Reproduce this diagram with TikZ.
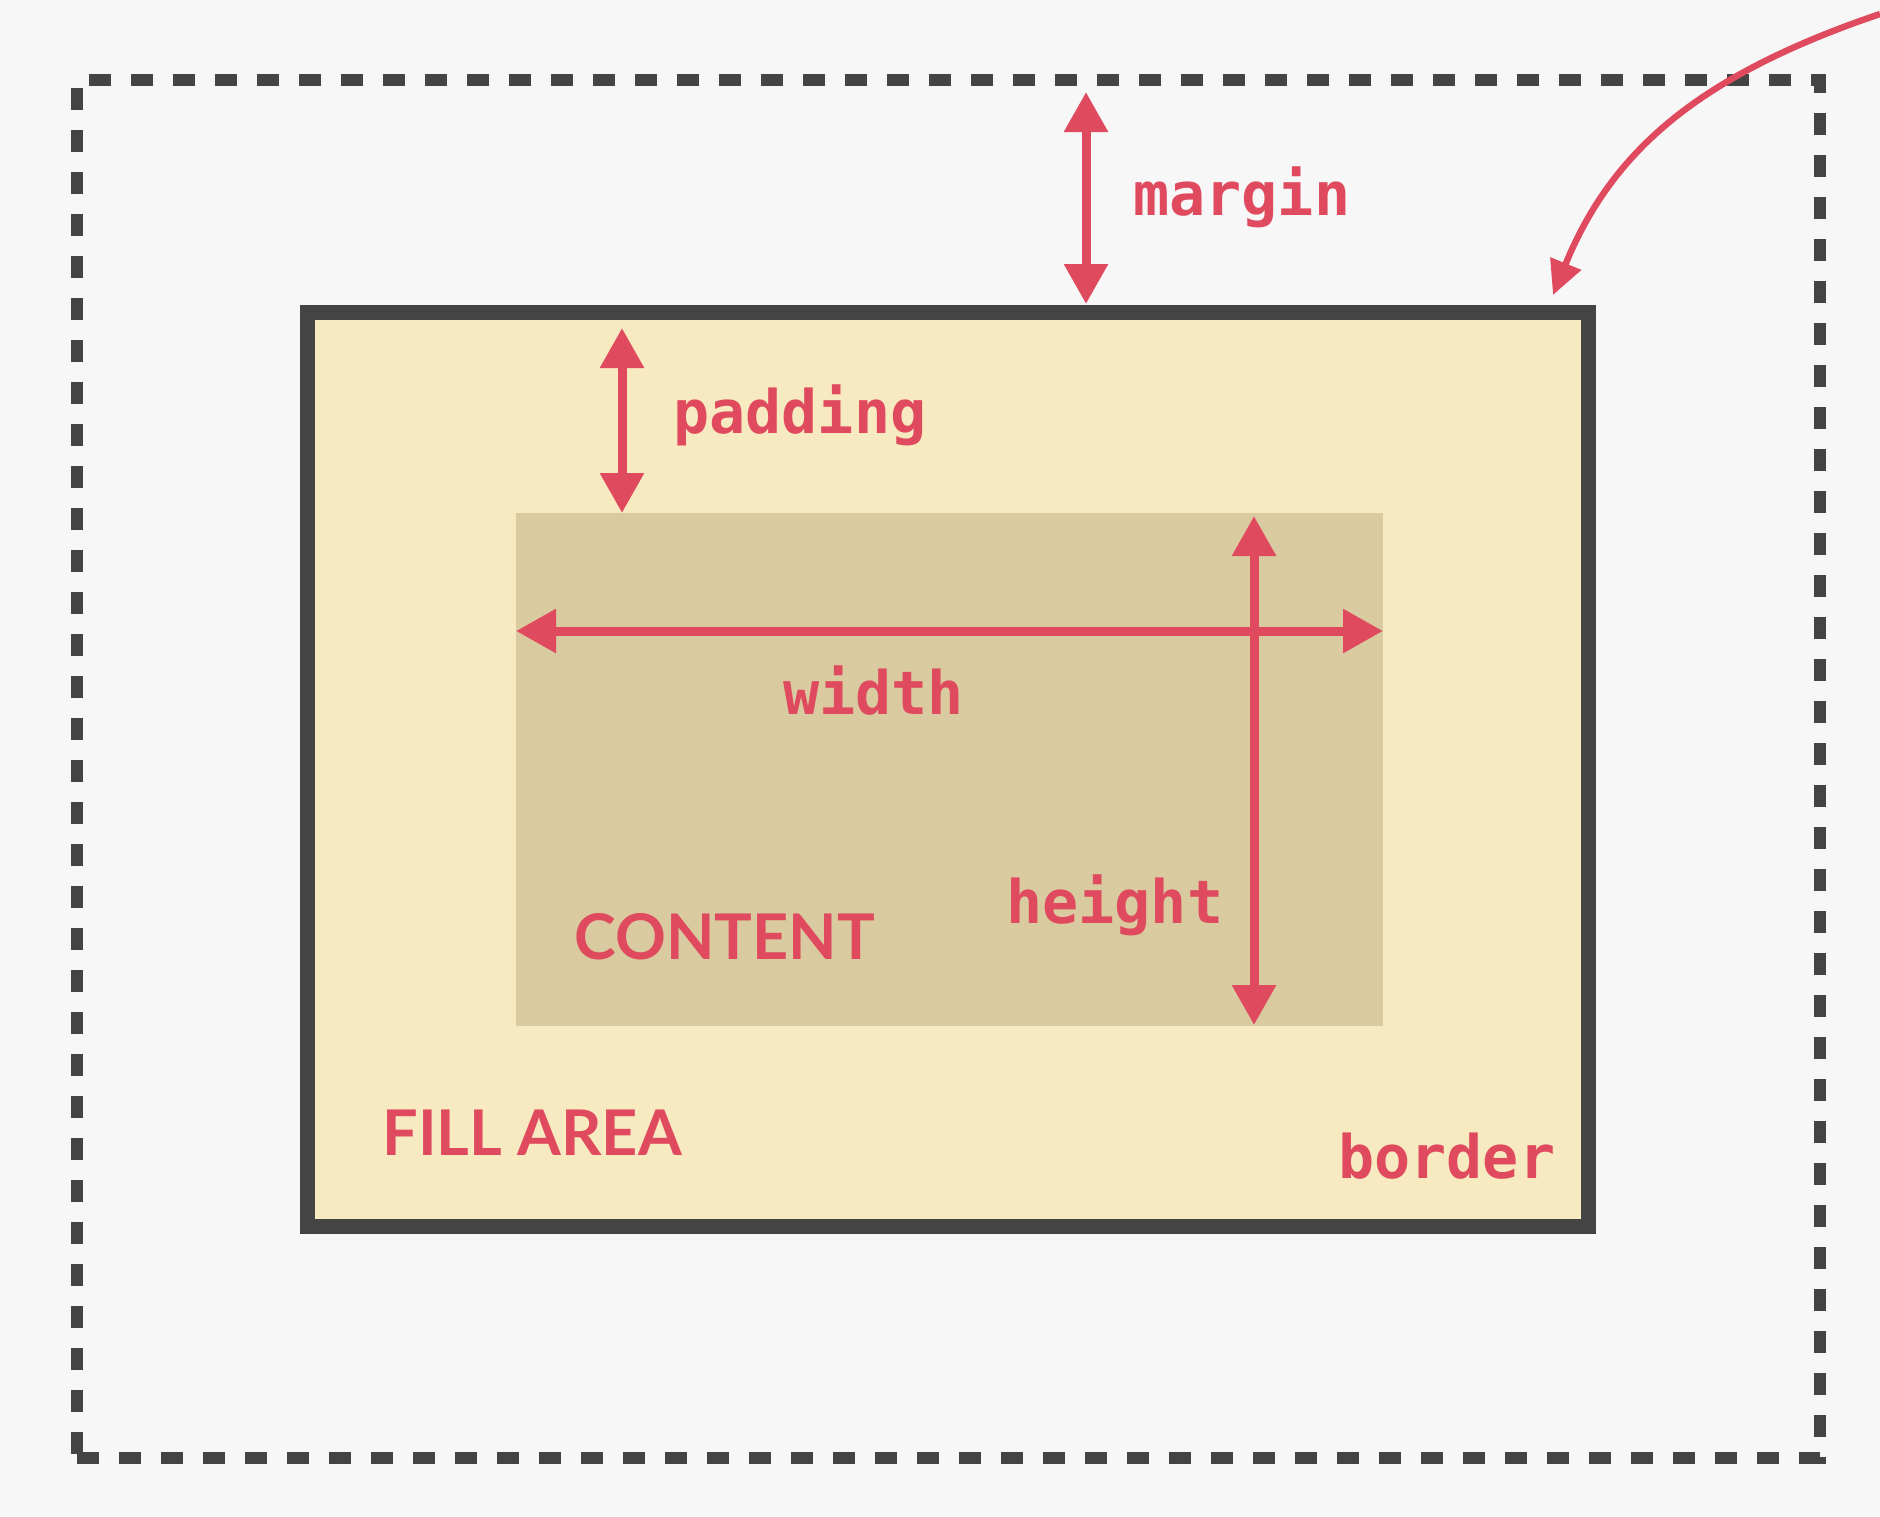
\documentclass[tikz,border=0pt]{standalone}
\usepackage{fontspec}
\usetikzlibrary{arrows.meta}
\newfontfamily\monof{DejaVu Sans Mono}
\newfontfamily\capsf{Lato}
\definecolor{bgc}{HTML}{F7F7F7}
\definecolor{fillc}{HTML}{F8EAC0}
\definecolor{contc}{HTML}{D9CA9F}
\definecolor{darkc}{HTML}{444444}
\definecolor{redc}{HTML}{E04A5F}
\tikzset{
  outerbox/.style={draw=darkc, line width=6pt, dash pattern=on 11pt off 10pt, inner sep=0pt, outer sep=0pt,
    minimum width=871.5pt, minimum height=689pt},
  borderbox/.style={draw=darkc, fill=fillc, line width=7.5pt, inner sep=0pt, outer sep=0pt,
    minimum width=640.5pt, minimum height=457pt},
  contentbox/.style={fill=contc, inner sep=0pt, outer sep=0pt, minimum width=433.5pt, minimum height=256.5pt},
  dimarrow/.style={draw=redc, line width=4.5pt, {Triangle[length=20pt,width=21pt]}-{Triangle[length=20pt,width=21pt]}},
  curvearrow/.style={draw=redc, line width=3.2pt, -{Triangle[length=17pt,width=16pt]}},
  monolabel/.style={text=redc, anchor=base west, inner sep=0pt, font=\monof\bfseries\fontsize{30pt}{36pt}\selectfont},
  capslabel/.style={text=redc, anchor=base west, inner sep=0pt, font=\capsf\bfseries\fontsize{31.5pt}{38pt}\selectfont},
}
\begin{document}
\begin{tikzpicture}[x=0.5pt, y=-0.5pt]
\fill[bgc] (0,0) rectangle (1880,1516);
\useasboundingbox (0,0) rectangle (1880,1516);
\node[outerbox] (marginbox) at (948.5,769) {};
\node[borderbox] (border) at (948,769.5) {};
\node[contentbox] (content) at (949.5,769.5) {};
% margin arrow
\coordinate (mtop) at (1086,92);
\coordinate (mbot) at (1086,304);
\draw[dimarrow] (mtop) -- (mbot);
% padding arrow
\coordinate (ptop) at (622,328);
\coordinate (pbot) at (622,513);
\draw[dimarrow] (ptop) -- (pbot);
% width arrow
\coordinate (wl) at (516,631);
\coordinate (wr) at (1383,631);
\draw[dimarrow] (wl) -- (wr);
% height arrow
\coordinate (ht) at (1254,516);
\coordinate (hb) at (1254,1025);
\draw[dimarrow] (ht) -- (hb);
% curved arrow
\coordinate (cstart) at (1880,14);
\coordinate (cend) at (1553,295);
\draw[curvearrow] (cstart) .. controls (1700,75) and (1612,150) .. (cend);
% labels
\node[monolabel] (lmargin) at (1133,215) {margin};
\node[monolabel] (lpadding) at (673,433) {padding};
\node[monolabel] (lwidth) at (783,714) {width};
\node[monolabel] (lheight) at (1006,923) {height};
\node[monolabel] (lborder) at (1338,1178) {border};
\node[capslabel] (lcontent) at (574,959) {CONTENT};
\node[capslabel] (lfill) at (382,1155) {FILL AREA};
\end{tikzpicture}
\end{document}
